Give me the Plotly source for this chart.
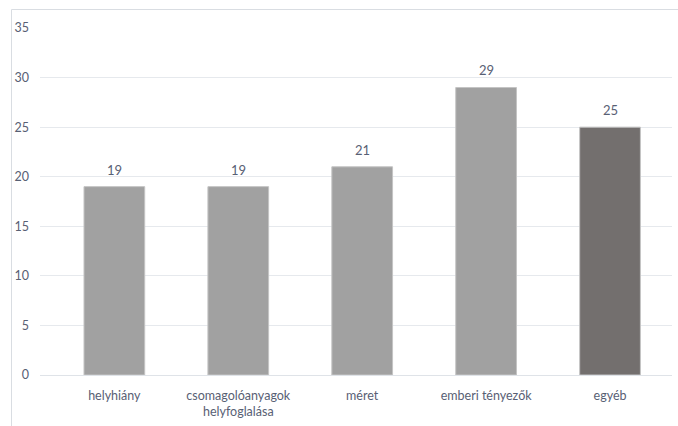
import plotly.graph_objects as go

categories = ["helyhiány", "csomagolóanyagok<br>helyfoglalása", "méret", "emberi tényezők", "egyéb"]
values = [19, 19, 21, 29, 25]
bar_colors = ["#a1a1a1", "#a1a1a1", "#a1a1a1", "#a1a1a1", "#736f6e"]
y_ticks = [0, 5, 10, 15, 20, 25, 30, 35]

txt = "#586074"
font_family = "Lato, 'Open Sans', sans-serif"

xs = list(range(len(categories)))

fig = go.Figure()
fig.add_trace(go.Bar(
    x=xs,
    y=values,
    width=0.49,
    marker=dict(color=bar_colors, line=dict(color="#c4c4c4", width=1)),
    cliponaxis=False,
))

for xi, v in zip(xs, values):
    fig.add_annotation(x=xi, y=v, text=str(v), showarrow=False,
                       yanchor="bottom", yshift=7,
                       font=dict(color=txt, size=13, family=font_family))

W, H = 678, 426
ml, mr, mt, mb = 40, 6, 28, 51
pw = W - ml - mr
ph = H - mt - mb

def px_x(p):
    return (p - ml) / pw

def px_y(p):
    return (H - mb - p) / ph

fig.update_layout(
    width=W, height=H,
    margin=dict(l=ml, r=mr, t=mt, b=mb),
    paper_bgcolor="white", plot_bgcolor="white",
    showlegend=False,
    font=dict(family=font_family, size=13, color=txt),
    xaxis=dict(
        range=[-0.6, 4.5],
        tickmode="array",
        tickvals=xs,
        ticktext=categories,
        showgrid=False,
        showline=False,
        zeroline=False,
        ticks="",
        ticklabelstandoff=11,
        tickfont=dict(size=12.5, color=txt),
    ),
    yaxis=dict(
        range=[0, 35],
        tickmode="array",
        tickvals=y_ticks,
        showgrid=True,
        gridcolor="#e6e9ed",
        gridwidth=1,
        zeroline=True,
        zerolinecolor="#dfe3e8",
        zerolinewidth=1,
        showline=False,
        ticks="",
        ticklabelstandoff=10,
        tickfont=dict(size=12.5, color=txt),
    ),
    shapes=[
        dict(type="line", xref="paper", yref="paper",
             x0=px_x(11.5), x1=px_x(678), y0=px_y(9.5), y1=px_y(9.5),
             line=dict(color="#d9dde2", width=1)),
        dict(type="line", xref="paper", yref="paper",
             x0=px_x(11.5), x1=px_x(11.5), y0=px_y(9.5), y1=px_y(426),
             line=dict(color="#d9dde2", width=1)),
    ],
)

fig.write_html("out.html")
